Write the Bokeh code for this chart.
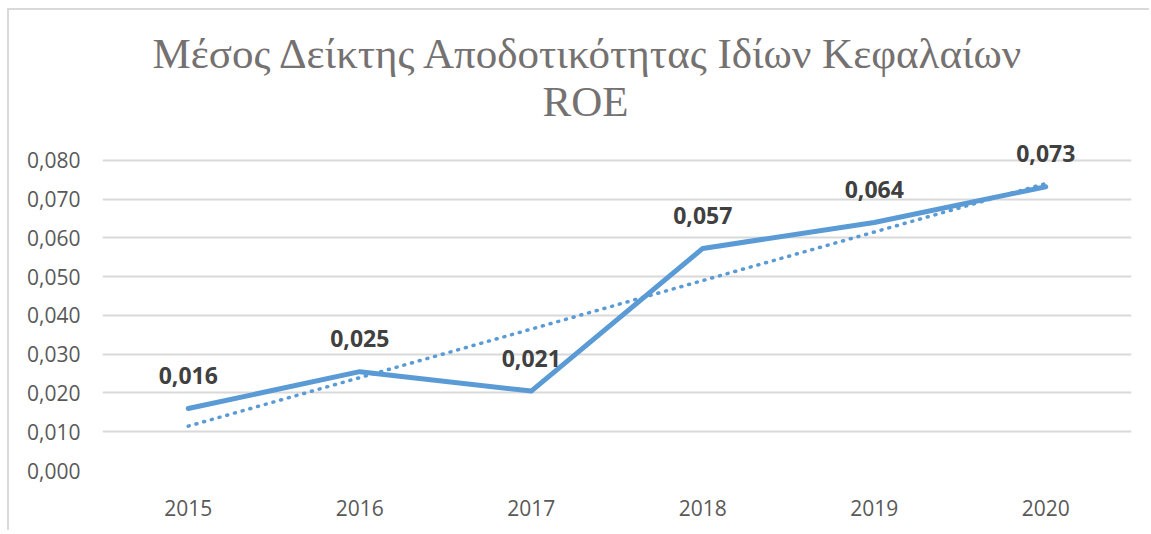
import numpy as np
from bokeh.plotting import figure
from bokeh.models import Title, FixedTicker, ColumnDataSource
from bokeh.core.properties import value
from bokeh.embed import file_html
from bokeh.resources import INLINE

years = ["2015", "2016", "2017", "2018", "2019", "2020"]
roe = [0.0160, 0.0255, 0.0205, 0.0573, 0.0640, 0.0732]
roe_labels = [f"{v:.3f}".replace(".", ",") for v in roe]
y_ticks = [0.00, 0.01, 0.02, 0.03, 0.04, 0.05, 0.06, 0.07, 0.08]
y_tick_labels = ["0,000", "0,010", "0,020", "0,030", "0,040", "0,050", "0,060", "0,070", "0,080"]
title_line1 = "Μέσος Δείκτης Αποδοτικότητας Ιδίων Κεφαλαίων"
title_line2 = "ROE"

# linear trendline (least squares over year index)
idx = np.arange(1, len(years) + 1)
slope, intercept = np.polyfit(idx, roe, 1)
trend = list(slope * idx + intercept)

BLUE = "#5B9BD5"
GRID = "#D9D9D9"
TXT = "#595959"

p = figure(x_range=years, y_range=(0, 0.0885), width=1142, height=522,
           output_backend="svg", toolbar_location=None,
           min_border_left=93, min_border_right=20, min_border_top=117, min_border_bottom=62)
p.title = None
p.margin = (8, 0, 0, 7)
p.styles = {"border-top": "2px solid #D9D9D9", "border-left": "2px solid #D9D9D9"}

t2 = Title(text=title_line2, align="left", text_font="Liberation Serif", text_font_size="43px",
           text_font_style="normal", text_color="#757171", standoff=6, offset=440)
t1 = Title(text=title_line1, align="left", text_font="Liberation Serif", text_font_size="43px",
           text_font_style="normal", text_color="#757171", standoff=-9, offset=50)
p.add_layout(t2, "above")
p.add_layout(t1, "above")

p.outline_line_color = None
p.background_fill_color = "white"
p.border_fill_color = "white"

p.xgrid.grid_line_color = None
p.ygrid.grid_line_color = GRID
p.ygrid.grid_line_width = 2
p.yaxis.ticker = FixedTicker(ticks=y_ticks)
p.yaxis.major_label_overrides = {t: l for t, l in zip(y_ticks, y_tick_labels)}

for ax in (p.xaxis, p.yaxis):
    ax.axis_line_color = None
    ax.major_tick_line_color = None
    ax.minor_tick_line_color = None
    ax.major_tick_out = 0
    ax.major_tick_in = 0
    ax.major_label_text_font = "Open Sans"
    ax.major_label_text_font_size = "21px"
    ax.major_label_text_color = TXT
p.yaxis.major_label_standoff = 22
p.xaxis.major_label_standoff = 29

src = ColumnDataSource(dict(x=years, y=roe, lab=roe_labels, trend=trend))
p.line("x", "trend", source=src, line_color=BLUE, line_width=3.5, line_dash="1 7", line_cap="round")
p.line("x", "y", source=src, line_color=BLUE, line_width=5, line_cap="round", line_join="round")
p.text("x", "y", text="lab", source=src, y_offset=-33, text_align="center", text_baseline="middle",
       text_font=value("Open Sans"), text_font_style="bold", text_font_size="23px", text_color="#404040")

open("out.html", "w").write(file_html(p, INLINE))
